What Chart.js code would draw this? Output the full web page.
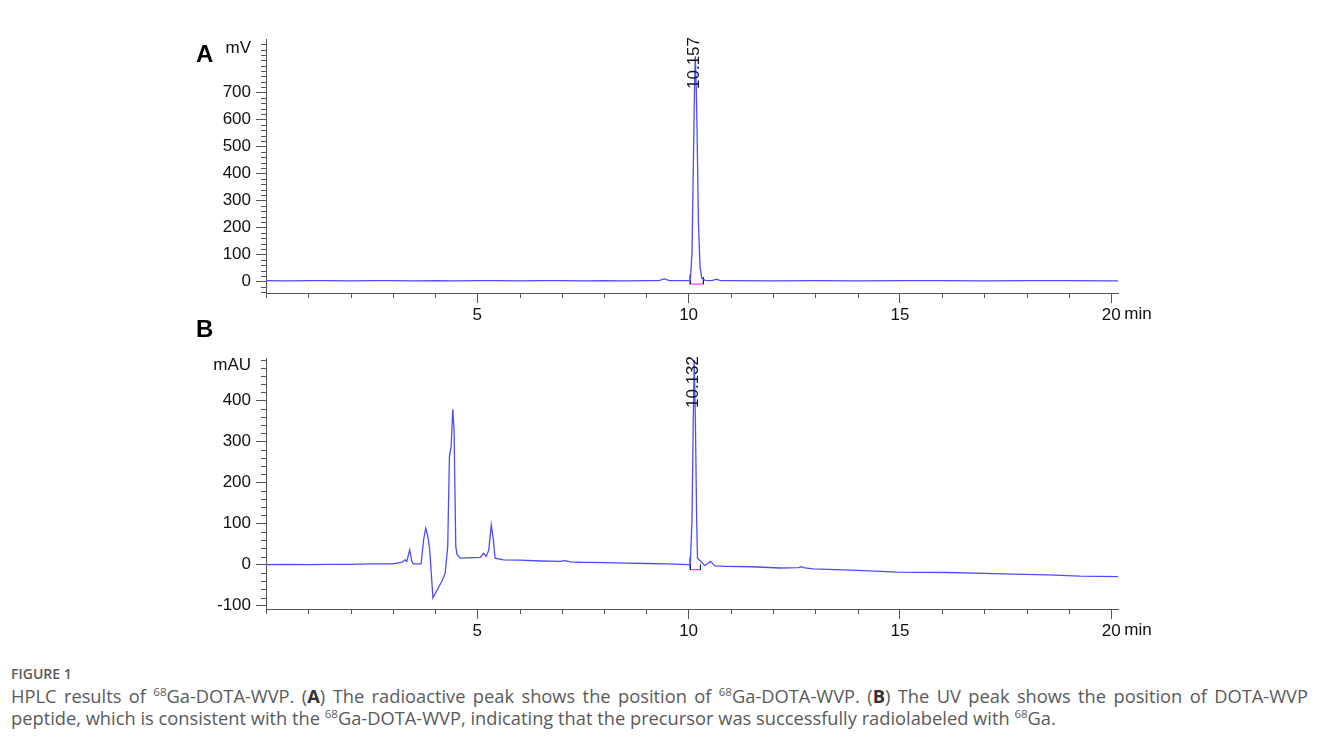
<!DOCTYPE html>
<html>
<head>
<meta charset="utf-8">
<script src="https://cdn.jsdelivr.net/npm/chart.js@4.4.0/dist/chart.umd.min.js"></script>
<style>
  body { margin: 0; background: #fff; }
  #page { position: relative; width: 1331px; height: 740px; overflow: hidden; }
  #page canvas { position: absolute; left: 0; }
  .panel { position: absolute; left: 196px; font: bold 24px "Liberation Sans", Arial, sans-serif; color: #000; }
  #caption { position: absolute; left: 11px; top: 664px; width: 1297px; font-family: "Open Sans", sans-serif; color: #5a5a5a; }
  #caption .fig { font-size: 14px; font-weight: 600; }
  #caption .txt { font-size: 18.3px; line-height: 22px; margin-top: 2px; text-align: justify; text-align-last: left; }
  #caption sup { font-size: 11.5px; vertical-align: 7px; line-height: 0; }
  #caption b { color: #333; }
</style>
</head>
<body>
<div id="page">
  <canvas id="chartA" width="1331" height="330" style="top:0"></canvas>
  <canvas id="chartB" width="1331" height="326" style="top:320px"></canvas>
  <div class="panel" style="top:40px">A</div>
  <div class="panel" style="top:315px">B</div>
  <div id="caption">
    <div class="fig">FIGURE 1</div>
    <div class="txt">HPLC results of <sup>68</sup>Ga-DOTA-WVP. (<b>A</b>) The radioactive peak shows the position of <sup>68</sup>Ga-DOTA-WVP. (<b>B</b>) The UV peak shows the position of DOTA-WVP peptide, which is consistent with the <sup>68</sup>Ga-DOTA-WVP, indicating that the precursor was successfully radiolabeled with <sup>68</sup>Ga.</div>
  </div>
</div>
<script>
// x tick labels (minutes)
const xTickLabels = [5, 10, 15, 20];

// panel A: radio detector (mV)
const timeA = [0, 0.5, 1, 1.5, 2, 2.5, 3, 3.5, 4, 4.5, 5, 5.5, 6, 6.5, 7, 7.5, 8, 8.5, 9, 9.3,
  9.42, 9.55, 9.8, 10.0, 10.04, 10.08, 10.11, 10.14, 10.157, 10.18, 10.2, 10.23, 10.27, 10.31,
  10.39, 10.55, 10.66, 10.75, 11, 12, 13, 14, 15, 16, 17, 18, 19, 20, 20.16];
const signalA = [3, 2, 3, 3, 2, 3, 3, 2, 3, 2, 3, 3, 2, 3, 3, 2, 3, 2, 3, 3,
  9, 3, 3, 3, 4, 105, 414, 722, 835, 720, 560, 228, 55, 12,
  4, 3, 8, 3, 3, 2, 3, 2, 3, 3, 2, 3, 3, 2, 2];
const yTickLabelsA = [0, 100, 200, 300, 400, 500, 600, 700];
const cutTimesA = [10.04, 10.35];
const cutTopsA = [25, 15];
const cutLevelA = -10;

// panel B: UV detector (mAU)
const timeB = [0, 0.5, 1, 1.5, 2, 2.5, 3, 3.22, 3.29, 3.33, 3.40, 3.45, 3.49, 3.67, 3.73, 3.78,
  3.83, 3.87, 3.89, 3.91, 3.95, 4.05, 4.16, 4.24, 4.30, 4.34, 4.38, 4.42, 4.45, 4.49, 4.52, 4.60,
  5.07, 5.15, 5.21, 5.27, 5.33, 5.38, 5.42, 5.62, 6, 6.5, 6.96, 7.08, 7.2, 7.44, 8, 8.5, 9, 9.5,
  10.0, 10.04, 10.08, 10.11, 10.132, 10.16, 10.19, 10.21, 10.25, 10.38, 10.46, 10.52, 10.62,
  10.9, 11.5, 12.17, 12.6, 12.68, 12.75, 12.95, 14, 14.93, 16.11, 17, 17.68, 18.5, 19.26, 20.16];
const signalB = [0, 1, 0, 1, 1, 2, 2, 6, 12, 8, 36, 8, 2, 2, 61, 89,
  69, 40, 12, -20, -81, -61, -41, -20, 45, 263, 288, 379, 328, 45, 25, 16,
  18, 28, 20, 35, 97, 60, 16, 12, 11, 9, 8, 10, 7, 6, 5, 4, 3, 2,
  0, -1, 110, 353, 499, 353, 110, 16, 12, -2, 3, 8, -3,
  -4, -5, -8, -7, -5, -8, -10, -14, -18, -19, -21, -23, -25, -28, -29];
const yTickLabelsB = [-100, 0, 100, 200, 300, 400];
const cutTimesB = [10.04, 10.28];
const cutTopsB = [18, 0];
const cutLevelB = -12;

const traceColor = '#4d4dff';
const axisColor = '#555';
const labelFont = { family: '"Liberation Sans", Arial, sans-serif', size: 17 };

// minor ticks, unit label, "min" and the rotated retention-time label
const decorPlugin = {
  id: 'decor',
  afterDraw(chart, args, opts) {
    const ctx = chart.ctx;
    const area = chart.chartArea;
    const xs = chart.scales.x, ys = chart.scales.y;
    ctx.save();
    ctx.strokeStyle = axisColor;
    ctx.lineWidth = 1;
    ctx.beginPath();
    xs.ticks.forEach(t => {
      if (xTickLabels.includes(t.value)) return;
      const px = Math.round(xs.getPixelForValue(t.value)) + 0.5;
      ctx.moveTo(px, area.bottom);
      ctx.lineTo(px, area.bottom + 5);
    });
    ys.ticks.forEach(t => {
      if (opts.yLabels.includes(Math.round(t.value))) return;
      const py = Math.round(ys.getPixelForValue(t.value)) + 0.5;
      ctx.moveTo(area.left - 5, py);
      ctx.lineTo(area.left, py);
    });
    ctx.stroke();

    ctx.fillStyle = '#111';
    ctx.font = '17px "Liberation Sans", Arial, sans-serif';
    ctx.textAlign = 'right';
    ctx.textBaseline = 'middle';
    ctx.fillText(opts.unit, area.left - 15, area.top + opts.unitOffset);
    ctx.textAlign = 'left';
    ctx.fillText('min', xs.getPixelForValue(20) + 13, area.bottom + 21);

    ctx.translate(xs.getPixelForValue(opts.peakTime) - 1, area.top + 50);
    ctx.rotate(-Math.PI / 2);
    ctx.fillText(opts.peakText, 0, 0);
    ctx.restore();
  }
};

function points(ts, vs) {
  return ts.map((t, i) => ({ x: t, y: vs[i] }));
}

function buildChart(id, time, signal, cutTimes, cutTops, cutLevel, yMin, yMax, yLabels, unit, unitOffset, peakTime, top) {
  const ctx = document.getElementById(id).getContext('2d');
  return new Chart(ctx, {
    type: 'line',
    data: {
      datasets: [
        { data: points(time, signal), borderColor: traceColor, borderWidth: 1.3 },
        { data: points([cutTimes[0], cutTimes[0]], [cutTops[0], cutLevel]), borderColor: '#222', borderWidth: 1 },
        { data: points([cutTimes[1], cutTimes[1]], [cutTops[1], cutLevel]), borderColor: '#222', borderWidth: 1 },
        { data: points(cutTimes, [cutLevel, cutLevel]), borderColor: '#ff33ee', borderWidth: 1.2 }
      ]
    },
    options: {
      responsive: false,
      animation: false,
      elements: { point: { radius: 0 }, line: { tension: 0 } },
      layout: { padding: { left: 206, right: 213, top: top, bottom: 0 } },
      plugins: {
        legend: { display: false },
        tooltip: { enabled: false },
        decor: { yLabels: yLabels, unit: unit, unitOffset: unitOffset, peakTime: peakTime, peakText: peakTime.toFixed(3) }
      },
      scales: {
        x: {
          type: 'linear',
          min: 0,
          max: 20.16,
          afterFit: s => { s.height = 37; },
          border: { color: axisColor, width: 1 },
          grid: {
            drawOnChartArea: false,
            tickLength: 10,
            color: c => (c.tick && xTickLabels.includes(c.tick.value)) ? axisColor : 'rgba(0,0,0,0)'
          },
          ticks: {
            stepSize: 1,
            includeBounds: false,
            autoSkip: false,
            maxRotation: 0,
            padding: 2,
            color: '#111',
            font: labelFont,
            callback: v => xTickLabels.includes(v) ? String(v) : ''
          }
        },
        y: {
          min: yMin,
          max: yMax,
          afterFit: s => { s.width = 60; },
          border: { color: axisColor, width: 1 },
          grid: {
            drawOnChartArea: false,
            tickLength: 10,
            color: c => (c.tick && yLabels.includes(Math.round(c.tick.value))) ? axisColor : 'rgba(0,0,0,0)'
          },
          ticks: {
            stepSize: 20,
            includeBounds: false,
            autoSkip: false,
            padding: 5,
            color: '#111',
            font: labelFont,
            callback: v => yLabels.includes(Math.round(v)) ? String(Math.round(v)) : ''
          }
        }
      }
    },
    plugins: [decorPlugin]
  });
}

buildChart('chartA', timeA, signalA, cutTimesA, cutTopsA, cutLevelA, -43, 899, yTickLabelsA, 'mV', 9, 10.157, 39);
buildChart('chartB', timeB, signalB, cutTimesB, cutTopsB, cutLevelB, -108, 504, yTickLabelsB, 'mAU', 7, 10.132, 38);
</script>
</body>
</html>
